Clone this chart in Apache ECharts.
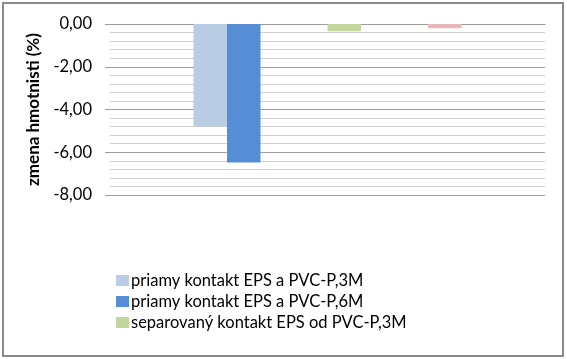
<!DOCTYPE html>
<html>
<head>
<meta charset="utf-8">
<script src="https://cdn.jsdelivr.net/npm/echarts@6/dist/echarts.min.js"></script>
<style>html,body{margin:0;padding:0;background:#fff}#c{width:567px;height:359px}</style>
</head>
<body>
<div id="c"></div>
<script>
// Data (one category, 8 series slots; only 4 carry visible values)
var categories = ['zmena'];
var seriesNames = [
  'priamy kontakt EPS a PVC-P,3M',
  'priamy kontakt EPS a PVC-P,6M',
  'slot3',
  'slot4',
  'separovaný kontakt EPS od PVC-P,3M',
  'slot6',
  'slot7',
  'separovaný kontakt EPS od PVC-P,6M'
];
var seriesValues = [-4.80, -6.48, null, null, -0.34, null, null, -0.20];
var seriesColors = ['#B9CDE5', '#558ED5', '#ccc', '#ccc', '#C3D69B', '#ccc', '#ccc', '#E6B9B8'];
var legendNames = [
  'priamy kontakt EPS a PVC-P,3M',
  'priamy kontakt EPS a PVC-P,6M',
  'separovaný kontakt EPS od PVC-P,3M'
];
var yTicks = {min: -8, max: 0, interval: 2};

var FONT = 'Lato';
var chart = echarts.init(document.getElementById('c'));
var series = seriesNames.map(function (n, i) {
  return {
    name: n, type: 'bar', data: [seriesValues[i]],
    barWidth: 33.5, barGap: '0%',
    itemStyle: {color: seriesColors[i]},
    animation: false
  };
});
chart.setOption({
  animation: false,
  backgroundColor: '#fff',
  graphic: [{
    type: 'rect', shape: {x: 3, y: 3, width: 560, height: 353},
    style: {fill: 'none', stroke: '#8a8a8a', lineWidth: 2}, z: 100
  }],
  grid: {left: 110, right: 22, top: 24, bottom: 164},
  legend: {
    data: legendNames, orient: 'vertical', left: 111, top: 267,
    itemWidth: 13, itemHeight: 11, itemGap: 4,
    icon: 'rect',
    textStyle: {fontFamily: FONT, fontSize: 16.5, color: '#000', padding: [0, 0, 0, -3]}
  },
  xAxis: {
    type: 'category', data: categories, position: 'top',
    axisLabel: {show: false}, axisTick: {show: false},
    axisLine: {show: true, lineStyle: {color: '#9a9a9a', width: 1}},
    splitLine: {show: false}
  },
  yAxis: {
    type: 'value', min: yTicks.min, max: yTicks.max, interval: yTicks.interval,
    name: 'zmena hmotnisti (%)', nameLocation: 'middle', nameGap: 62, nameRotate: 90,
    nameTextStyle: {fontFamily: FONT, fontSize: 17, fontWeight: 'bold', color: '#000'},
    axisLine: {show: false},
    axisTick: {show: true, length: 5, lineStyle: {color: '#999'}},
    axisLabel: {
      fontFamily: FONT, fontSize: 16.5, color: '#000', margin: 18,
      formatter: function (v) { return v.toFixed(2).replace('.', ','); }
    },
    splitLine: {show: true, lineStyle: {color: '#a0a0a0', width: 1}},
    minorTick: {show: false, splitNumber: 5},
    minorSplitLine: {show: true, lineStyle: {color: '#d0d0d0', width: 1}}
  },
  series: series
});
</script>
</body>
</html>
